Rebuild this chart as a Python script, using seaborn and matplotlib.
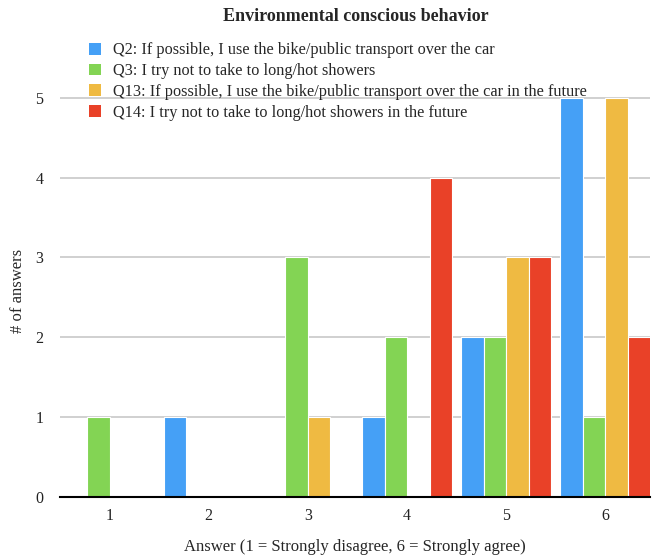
import matplotlib
matplotlib.use("Agg")
import matplotlib.pyplot as plt
import seaborn as sns
import pandas as pd
from matplotlib.patches import Patch

answers = ["1", "2", "3", "4", "5", "6"]
q2 = [0, 1, 0, 1, 2, 5]
q3 = [1, 0, 3, 2, 2, 1]
q13 = [0, 0, 1, 0, 3, 5]
q14 = [0, 0, 0, 4, 3, 2]
series_names = [
    "Q2: If possible, I use the bike/public transport over the car",
    "Q3: I try not to take to long/hot showers",
    "Q13: If possible, I use the bike/public transport over the car in the future",
    "Q14: I try not to take to long/hot showers in the future",
]
colors = ["#45A0F6", "#83D454", "#EFBA42", "#E94128"]

rows = []
for name, vals in zip(series_names, [q2, q3, q13, q14]):
    for a, v in zip(answers, vals):
        rows.append({"answer": a, "count": v, "question": name})
df = pd.DataFrame(rows)

sns.set_theme(style="white")
plt.rcParams["font.family"] = ["Liberation Serif", "DejaVu Serif"]

fig = plt.figure(figsize=(6.52, 5.59), dpi=100)
ax = fig.add_axes([0.092, 0.111, 0.905, 0.737])

sns.barplot(data=df, x="answer", y="count", hue="question", order=answers,
            hue_order=series_names, palette=colors, width=0.91, saturation=1,
            edgecolor="white", linewidth=0.8, ax=ax, legend=False, zorder=3)

ax.set_xlim(-0.5, 5.45)
ax.set_ylim(0, 5.16)
ax.set_yticks(range(6))
ax.yaxis.grid(True, color="#c8c8c8", linewidth=1.2, zorder=0)
ax.set_axisbelow(True)
for s in ["left", "right", "top"]:
    ax.spines[s].set_visible(False)
ax.spines["bottom"].set_color("black")
ax.spines["bottom"].set_linewidth(1.5)
ax.spines["bottom"].set_zorder(4)
ax.tick_params(axis="both", length=0, labelsize=11.5, colors="#222222")
ax.tick_params(axis="x", pad=8)
ax.tick_params(axis="y", pad=12)
ax.set_xlabel("Answer (1 = Strongly disagree, 6 = Strongly agree)", fontsize=12, labelpad=11)
ax.set_ylabel("# of answers", fontsize=12, labelpad=7)

fig.suptitle("Environmental conscious behavior", x=0.545, y=0.985, fontsize=13, fontweight="bold")

handles = [Patch(facecolor=c, edgecolor="none") for c in colors]
leg = fig.legend(handles, series_names, loc="upper left", bbox_to_anchor=(0.127, 0.936),
                 frameon=False, fontsize=11.7, handlelength=0.74, handleheight=0.74,
                 handletextpad=0.74, labelspacing=0.3, borderaxespad=0)

fig.savefig("out.png", dpi=100)
